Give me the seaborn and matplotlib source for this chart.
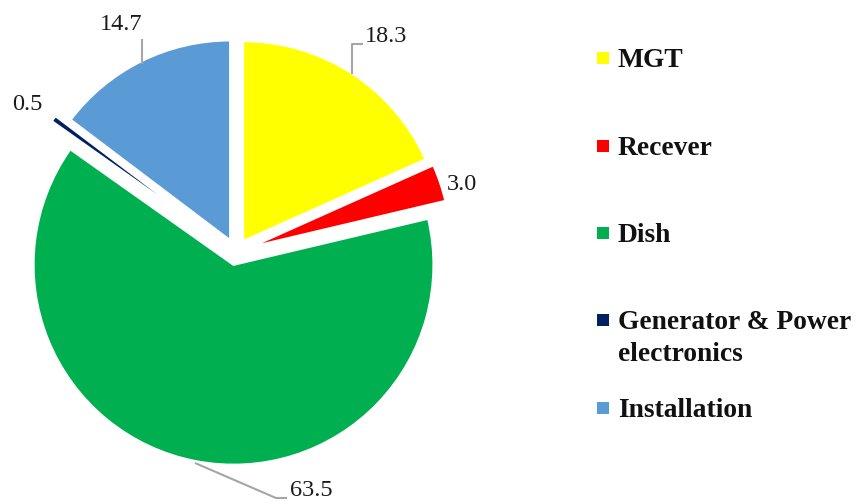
import matplotlib
matplotlib.use("Agg")
import matplotlib.pyplot as plt
import seaborn as sns
from matplotlib.patches import Rectangle

# ---- data ----
categories = ["MGT", "Recever", "Dish", "Generator & Power\nelectronics", "Installation"]
values = [18.3, 3.0, 63.5, 0.5, 14.7]
value_labels = ["18.3", "3.0", "63.5", "0.5", "14.7"]
colors = ["#FFFF00", "#FF0000", "#00B050", "#002060", "#5B9BD5"]

# ---- layout (pixels in an 856x504 canvas) ----
W, H = 856, 504
CX, CY, R = 236, 252, 200          # pie centre and radius in px
explode = [0.065, 0.078, 0.065, 0.13, 0.065]
label_pos = [(365, 36), (447, 184), (290, 491), (12, 104), (121, 25)]
label_ha = ["left", "left", "left", "left", "center"]
leaders = [
    [(352, 74), (352, 44), (363, 44)],
    None,
    [(195, 463), (276, 498), (287, 498)],
    None,
    [(142, 64), (142, 39)],
]
legend_y = [58, 146, 233, 320, 408]

sns.set_theme(style="white")
plt.rcParams["font.family"] = ["Liberation Serif", "DejaVu Serif"]

fig = plt.figure(figsize=(W / 100, H / 100), dpi=100)
ax = fig.add_axes([0, 0, 1, 1])


def px(p):
    return ((p[0] - CX) / R, (CY - p[1]) / R)


ax.pie(values, colors=colors, startangle=90, counterclock=False,
       explode=explode, radius=1.0, center=(0, 0),
       wedgeprops=dict(linewidth=1.6, edgecolor="white"))

ax.set_xlim(-CX / R, (W - CX) / R)
ax.set_ylim(-(H - CY) / R, CY / R)
ax.set_aspect("equal")
ax.axis("off")

for lab, pos, ha, lead in zip(value_labels, label_pos, label_ha, leaders):
    x, y = px(pos)
    ax.text(x, y, lab, ha=ha, va="center", fontsize=17.5, color="#1a1a1a")
    if lead:
        pts = [px(p) for p in lead]
        ax.plot([p[0] for p in pts], [p[1] for p in pts],
                color="#A6A6A6", lw=1.5, solid_capstyle="butt")

# legend
for cat, col, ly in zip(categories, colors, legend_y):
    fig.patches.append(Rectangle((597 / W, 1 - (ly + 6) / H), 12 / W, 12 / H,
                                 transform=fig.transFigure, facecolor=col,
                                 edgecolor="none"))
    fig.text(618 / W, 1 - (ly - 10) / H, cat, ha="left", va="top",
             fontsize=19.8, fontweight="bold", color="#111111",
             linespacing=1.38)

fig.savefig("out.png", dpi=100)
